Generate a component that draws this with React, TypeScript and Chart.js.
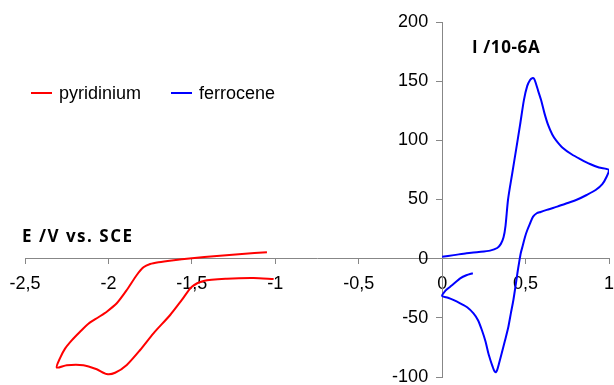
import React, { useEffect, useRef } from "react";
import { Chart, registerables } from "chart.js";

Chart.register(...registerables);

// ---- data ----
const seriesNames = ["pyridinium", "ferrocene"];

const pyridiniumE = [
  -1.05, -1.2, -1.35, -1.5, -1.62, -1.7, -1.75, -1.79, -1.83, -1.89, -1.95, -2.01, -2.06, -2.12,
  -2.17, -2.22, -2.26, -2.29, -2.31, -2.25, -2.15, -2.07, -2.01, -1.96, -1.89, -1.81, -1.73, -1.63,
  -1.56, -1.5, -1.43, -1.29, -1.13, -1.01,
];
const pyridiniumI = [
  5.4, 4, 2.3, 0.3, -1.5, -3, -4.5, -7.3, -13.8, -26.5, -37.7, -44.8, -49.5, -55, -61.7, -69, -76,
  -84, -92, -90, -90, -93.5, -97.5, -96.4, -89.8, -77.2, -63.1, -47.6, -34.9, -23.7, -18.8, -16.9,
  -16.3, -17.2,
];

const ferroceneE = [
  0, 0.07, 0.146, 0.22, 0.287, 0.33, 0.352, 0.368, 0.38, 0.395, 0.42, 0.443, 0.467, 0.49, 0.51,
  0.527, 0.54, 0.551, 0.562, 0.575, 0.593, 0.613, 0.635, 0.66, 0.683, 0.72, 0.778, 0.83, 0.886,
  0.94, 1.0,
  0.985, 0.96, 0.92, 0.866, 0.81, 0.747, 0.69, 0.627, 0.59, 0.567, 0.545, 0.527, 0.51, 0.497,
  0.484, 0.471, 0.461, 0.451, 0.44, 0.427, 0.412, 0.397, 0.377, 0.357, 0.342, 0.33, 0.322, 0.313,
  0.302, 0.29, 0.277, 0.26, 0.238, 0.215, 0.188, 0.15, 0.108, 0.07, 0.035, 0.0,
  0.02, 0.048, 0.08, 0.108, 0.145, 0.184,
];
const ferroceneI = [
  1.7, 3, 4.6, 5.6, 6.8, 9, 12.5, 18, 28, 50, 72, 92, 113, 134, 146, 151, 152.5, 152, 148, 142,
  134, 123, 113, 105, 100, 94, 88, 84, 80, 77, 75,
  69, 63, 58, 53.8, 50, 46.8, 44, 41.2, 39.5, 38.4, 35.5, 29.9, 24, 18.6, 11.5, 4.6, -3.5, -12.3,
  -23, -34.9, -46, -57.5, -69, -80, -88, -94, -96, -95, -91, -86, -80, -70, -60.3, -52, -46.2,
  -41, -37.7, -35, -33, -31.5,
  -27, -23.7, -20, -16.6, -14, -12.3,
];

const xTicks = [-2.5, -2, -1.5, -1, -0.5, 0, 0.5, 1];
const xTickLabels = ["-2,5", "-2", "-1,5", "-1", "-0,5", "0", "0,5", "1"];
const yTicks = [-100, -50, 0, 50, 100, 150, 200];
const yTickLabels = ["-100", "-50", "0", "50", "100", "150", "200"];

const xTitle = "E /V vs. SCE";
const yTitle = "I /10-6A";

const colors = ["#ff0000", "#0000ff"];

function pts(xs: number[], ys: number[]) {
  return xs.map((x, i) => ({ x, y: ys[i] }));
}

function lookup(ticks: number[], labels: string[], v: number) {
  const i = ticks.findIndex((t) => Math.abs(t - v) < 1e-9);
  return i >= 0 ? labels[i] : "";
}

const tickFont = { family: "'Liberation Sans', Arial, sans-serif", size: 18 };
const axisGray = "#878787";

// y-axis sits at x = 0; push its labels out past the tick marks
const shiftYLabels = {
  id: "shiftYLabels",
  beforeDraw(chart: any) {
    const s: any = chart.scales.y;
    if (!s) return;
    const items = s.getLabelItems(chart.chartArea);
    if (items && !items._shifted) {
      items.forEach((it: any) => {
        it.options.translation[0] -= 14;
      });
      items._shifted = true;
    }
  },
};

export default function App() {
  const ref = useRef<HTMLCanvasElement | null>(null);

  useEffect(() => {
    if (!ref.current) return;
    const zeroPad = (s: any) => {
      s.paddingLeft = 0;
      s.paddingRight = 0;
      s.paddingTop = 0;
      s.paddingBottom = 0;
    };
    const chart = new Chart(ref.current, {
      type: "scatter",
      data: {
        datasets: [
          {
            label: seriesNames[0],
            data: pts(pyridiniumE, pyridiniumI),
            showLine: true,
            borderColor: colors[0],
            backgroundColor: colors[0],
            borderWidth: 2,
            pointRadius: 0,
            tension: 0.25,
          },
          {
            label: seriesNames[1],
            data: pts(ferroceneE, ferroceneI),
            showLine: true,
            borderColor: colors[1],
            backgroundColor: colors[1],
            borderWidth: 2,
            pointRadius: 0,
            tension: 0.25,
          },
        ],
      },
      options: {
        animation: false,
        responsive: false,
        layout: { padding: { left: 25, right: 5, top: 22, bottom: 8 } },
        plugins: { legend: { display: false }, tooltip: { enabled: false } },
        scales: {
          x: {
            type: "linear",
            min: -2.5,
            max: 1,
            position: { y: 0 } as any,
            afterFit: zeroPad,
            ticks: {
              stepSize: 0.5,
              font: tickFont,
              color: "#000",
              padding: 10,
              maxRotation: 0,
              callback: (v: any) => lookup(xTicks, xTickLabels, Number(v)),
            },
            grid: { drawOnChartArea: false, drawTicks: true, tickLength: 5, color: axisGray },
            border: { color: axisGray, width: 1 },
          },
          y: {
            type: "linear",
            min: -100,
            max: 200,
            position: { x: 0 } as any,
            afterFit: zeroPad,
            ticks: {
              stepSize: 50,
              font: tickFont,
              color: "#000",
              padding: 8,
              callback: (v: any) => lookup(yTicks, yTickLabels, Number(v)),
            },
            grid: { drawOnChartArea: false, drawTicks: true, tickLength: 6, color: axisGray },
            border: { color: axisGray, width: 1 },
          },
        },
      },
      plugins: [shiftYLabels],
    });
    return () => chart.destroy();
  }, []);

  const legendText: React.CSSProperties = {
    position: "absolute",
    fontFamily: "'Liberation Sans', Arial, sans-serif",
    fontSize: 18,
    color: "#000",
    lineHeight: "20px",
    whiteSpace: "nowrap",
  };
  const titleText: React.CSSProperties = {
    position: "absolute",
    fontFamily: "'Open Sans', 'Noto Sans', sans-serif",
    fontWeight: 700,
    fontSize: 17,
    color: "#000",
    lineHeight: "20px",
    whiteSpace: "nowrap",
  };

  return (
    <div style={{ position: "fixed", left: 0, top: 0, width: 614, height: 385, background: "#fff" }}>
      <canvas ref={ref} width={614} height={385} style={{ display: "block" }} />
      <div style={{ position: "absolute", left: 31, top: 92, width: 21, height: 2, background: colors[0] }} />
      <div style={{ ...legendText, left: 59, top: 83 }}>{seriesNames[0]}</div>
      <div style={{ position: "absolute", left: 171, top: 92, width: 21, height: 2, background: colors[1] }} />
      <div style={{ ...legendText, left: 199, top: 83 }}>{seriesNames[1]}</div>
      <div style={{ ...titleText, left: 22, top: 226, letterSpacing: 1.5 }}>{xTitle}</div>
      <div style={{ ...titleText, left: 472, top: 37, letterSpacing: 0.6 }}>{yTitle}</div>
    </div>
  );
}
